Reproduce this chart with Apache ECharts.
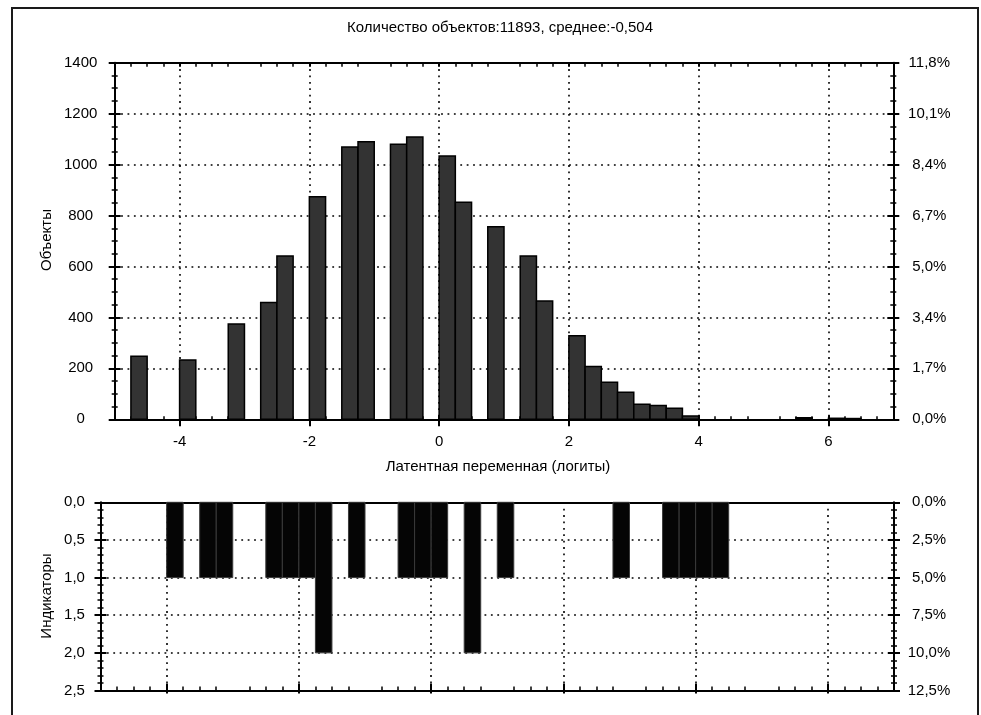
<!DOCTYPE html>
<html><head><meta charset="utf-8">
<script src="https://cdn.jsdelivr.net/npm/echarts@6/dist/echarts.min.js"></script>
<style>html,body{margin:0;padding:0;background:#fff}#c{width:981px;height:715px}</style>
</head><body><div id="c"></div>
<script>
const titleText = 'Количество объектов:11893, среднее:-0,504';
const xAxisTitle = 'Латентная переменная (логиты)';
const objectsAxisTitle = 'Объекты';
const indicatorsAxisTitle = 'Индикаторы';
const totalObjects = 11893;
const totalIndicators = 20;
const binWidth = 0.25;

const objectBinStart = [-4.75, -4.0, -3.25, -2.75, -2.5, -2.0, -1.5, -1.25, -0.75, -0.5, 0.0, 0.25, 0.75, 1.25, 1.5, 2.0, 2.25, 2.5, 2.75, 3.0, 3.25, 3.5, 3.75, 5.5, 6.0, 6.25];
const objectCounts   = [248, 233, 374, 459, 641, 874, 1069, 1090, 1080, 1108, 1034, 852, 756, 641, 464, 328, 207, 145, 106, 59, 54, 43, 13, 6, 4, 3];

const indicatorBinStart = [-4.0, -3.5, -3.25, -2.5, -2.25, -2.0, -1.75, -1.25, -0.5, -0.25, 0.0, 0.5, 1.0, 2.75, 3.5, 3.75, 4.0, 4.25];
const indicatorCounts   = [1, 1, 1, 1, 1, 1, 2, 1, 1, 1, 1, 2, 1, 1, 1, 1, 1, 1];

const xTickValues = [-4, -2, 0, 2, 4, 6];
const objectTickValues = [0, 200, 400, 600, 800, 1000, 1200, 1400];
const indicatorTickValues = [0, 0.5, 1, 1.5, 2, 2.5];

const FONT = '"Liberation Sans", Arial, sans-serif';
const BLACK = '#000';
const dotted = { type: [1.8, 4.6], width: 1.6, color: BLACK };

const chart = echarts.init(document.getElementById('c'), null, { renderer: 'canvas' });

function comma(v, d) { return v.toFixed(d).replace('.', ','); }

function xAxisDef(grid, pos, o) {
  return {
    type: 'value', gridIndex: grid, position: pos, min: -5, max: 7, interval: 1,
    axisLine: { show: !!o.line, onZero: false, lineStyle: { color: BLACK, width: 2 } },
    axisTick: { show: !!o.tick, inside: !!o.inside, length: o.tickLen || 5, customValues: xTickValues, lineStyle: { color: BLACK, width: 2 } },
    minorTick: { show: !!o.minor, splitNumber: 4, length: o.minorLen || 3, lineStyle: { color: BLACK, width: 1.5 } },
    axisLabel: { show: !!o.label, customValues: xTickValues, margin: 15, fontSize: 15, color: BLACK, fontFamily: FONT,
                 formatter: v => String(v) },
    splitLine: { show: !!o.split, lineStyle: dotted },
    minorSplitLine: { show: false }
  };
}

function yAxisDef(grid, pos, o) {
  return {
    type: 'value', gridIndex: grid, position: pos, min: o.min, max: o.max, interval: o.interval, inverse: !!o.inverse,
    axisLine: { show: !!o.line, onZero: false, lineStyle: { color: BLACK, width: 2 } },
    axisTick: { show: !!o.tick, inside: !!o.inside, length: o.tickLen || 5, customValues: o.ticks, lineStyle: { color: BLACK, width: 2 } },
    minorTick: { show: !!o.minor, splitNumber: o.minorSplit, length: o.minorLen || 3, lineStyle: { color: BLACK, width: 1.5 } },
    axisLabel: { show: !!o.label, customValues: o.ticks, align: 'center', margin: o.margin || 30, fontSize: 15, color: BLACK, fontFamily: FONT,
                 formatter: o.fmt },
    splitLine: { show: !!o.split, lineStyle: dotted },
    minorSplitLine: { show: false }
  };
}

const topY = { min: 0, max: 1400, interval: 200, ticks: objectTickValues, minorSplit: 4 };
const botY = { min: 0, max: 2.5, interval: 0.5, ticks: indicatorTickValues, minorSplit: 5, inverse: true };
const objPct = v => comma(v / totalObjects * 100, 1) + '%';
const indPct = v => comma(v / totalIndicators * 100, 1) + '%';

const xAxes = [
  // grid 0 (histogram)
  xAxisDef(0, 'bottom', { line: true, tick: true, inside: false, tickLen: 7, label: true, split: true }),
  xAxisDef(0, 'bottom', { tick: true, inside: true, tickLen: 4, minor: true, minorLen: 3 }),
  xAxisDef(0, 'top', { line: true, tick: true, inside: true, tickLen: 4, minor: true, minorLen: 4 }),
  // grid 1 (indicators)
  xAxisDef(1, 'bottom', { line: true, tick: true, inside: false, tickLen: 3, split: true }),
  xAxisDef(1, 'bottom', { tick: true, inside: true, tickLen: 7, minor: true, minorLen: 4 }),
  xAxisDef(1, 'top', { line: true })
];

const yAxes = [
  // grid 0 left / right
  yAxisDef(0, 'left', Object.assign({}, topY, { line: true, tick: true, inside: false, tickLen: 6, minor: true, minorLen: 3, label: true, margin: 34, split: true, fmt: v => String(v) })),
  yAxisDef(0, 'left', Object.assign({}, topY, { tick: true, inside: true, tickLen: 6, minor: true, minorLen: 3 })),
  yAxisDef(0, 'right', Object.assign({}, topY, { line: true, tick: true, inside: false, tickLen: 6, minor: true, minorLen: 3, label: true, margin: 36, fmt: objPct })),
  yAxisDef(0, 'right', Object.assign({}, topY, { tick: true, inside: true, tickLen: 6, minor: true, minorLen: 3 })),
  // grid 1 left / right
  yAxisDef(1, 'left', Object.assign({}, botY, { line: true, tick: true, inside: false, tickLen: 6, minor: true, minorLen: 3, label: true, margin: 26, split: true, fmt: v => comma(v, 1) })),
  yAxisDef(1, 'left', Object.assign({}, botY, { tick: true, inside: true, tickLen: 6, minor: true, minorLen: 3 })),
  yAxisDef(1, 'right', Object.assign({}, botY, { line: true, tick: true, inside: false, tickLen: 6, minor: true, minorLen: 3, label: true, margin: 35, fmt: indPct })),
  yAxisDef(1, 'right', Object.assign({}, botY, { tick: true, inside: true, tickLen: 6, minor: true, minorLen: 3 }))
];

const objectData = objectBinStart.map((s, i) => [s, s + binWidth, objectCounts[i]]);
const indicatorData = indicatorBinStart.map((s, i) => [s, s + binWidth, indicatorCounts[i]]);

function histItem(fill, stroke, lw) {
  return function (params, api) {
    const x0 = api.value(0), x1 = api.value(1), v = api.value(2);
    const a = api.coord([x0, 0]);
    const b = api.coord([x1, v]);
    const y = Math.min(a[1], b[1]);
    return {
      type: 'rect',
      shape: { x: a[0], y: y, width: b[0] - a[0], height: Math.abs(b[1] - a[1]) },
      style: { fill: fill, stroke: stroke, lineWidth: lw }
    };
  };
}

chart.setOption({
  backgroundColor: '#fff',
  animation: false,
  textStyle: { fontFamily: FONT },
  grid: [
    { left: 114.7, right: 87.7, top: 62.7, height: 356.6, containLabel: false, outerBoundsMode: 'none' },
    { left: 100.5, right: 87, top: 502.3, height: 188.2, containLabel: false, outerBoundsMode: 'none' }
  ],
  xAxis: xAxes,
  yAxis: yAxes,
  series: [
    { type: 'custom', xAxisIndex: 0, yAxisIndex: 0, data: objectData, encode: { x: [0, 1], y: 2 },
      renderItem: histItem('#333333', '#000', 1.5), z: 5 },
    { type: 'custom', xAxisIndex: 3, yAxisIndex: 4, data: indicatorData, encode: { x: [0, 1], y: 2 },
      renderItem: histItem('#050505', '#3a3a3a', 1), z: 5 }
  ],
  graphic: [
    { type: 'rect', shape: { x: 12, y: 8, width: 966, height: 730 }, style: { fill: 'none', stroke: '#1a1a1a', lineWidth: 2 }, silent: true },
    { type: 'text', x: 500, y: 28, style: { text: titleText, fontSize: 15, fontFamily: FONT, fill: BLACK, textAlign: 'center', textVerticalAlign: 'middle' } },
    { type: 'text', x: 498, y: 467, style: { text: xAxisTitle, fontSize: 15, fontFamily: FONT, fill: BLACK, textAlign: 'center', textVerticalAlign: 'middle' } },
    { type: 'text', x: 47, y: 240, rotation: Math.PI / 2, style: { text: objectsAxisTitle, fontSize: 15, fontFamily: FONT, fill: BLACK, textAlign: 'center', textVerticalAlign: 'middle' } },
    { type: 'text', x: 47, y: 596, rotation: Math.PI / 2, style: { text: indicatorsAxisTitle, fontSize: 15, fontFamily: FONT, fill: BLACK, textAlign: 'center', textVerticalAlign: 'middle' } }
  ]
});
</script></body></html>
